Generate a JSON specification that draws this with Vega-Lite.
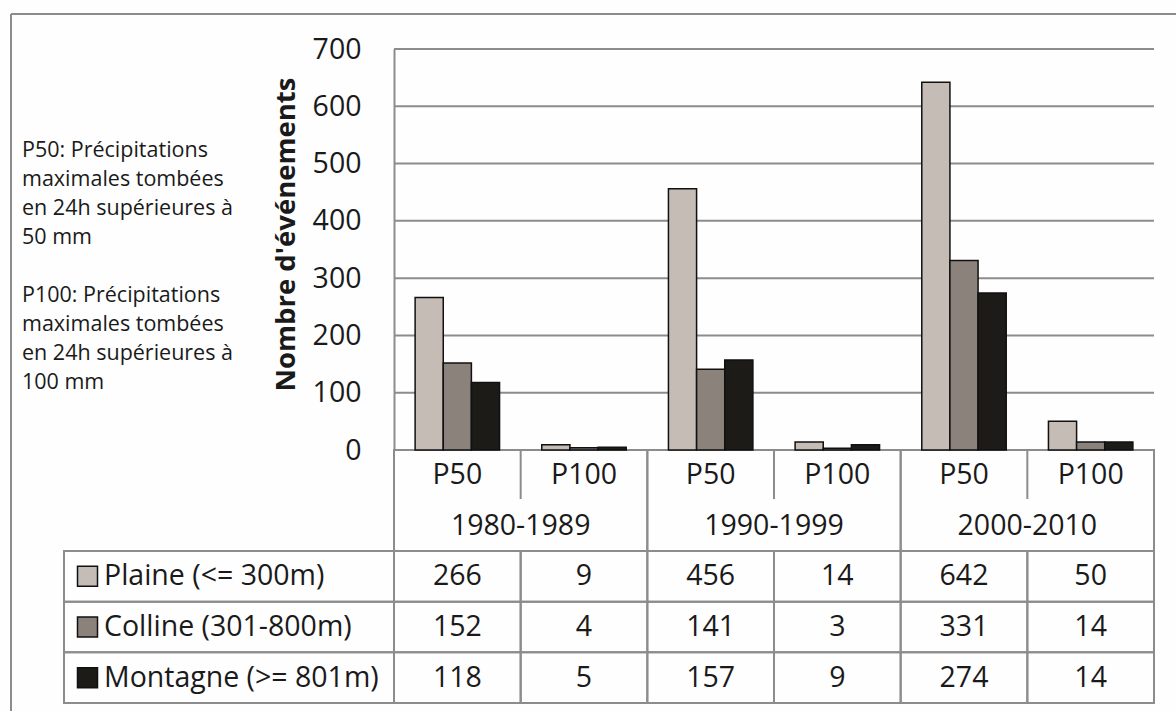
{
  "$schema": "https://vega.github.io/schema/vega-lite/v6.json",
  "width": 1176,
  "height": 711,
  "autosize": {"type": "fit", "contains": "padding"},
  "padding": {"left": 10, "top": 13, "right": 0, "bottom": 0},
  "background": "#fefefe",
  "view": {"stroke": null, "fill": "#fefefe"},
  "config": {"font": "Open Sans"},
  "datasets": {
    "evenements": [
      {"decennie": "1980-1989", "seuil": "P50", "colonne": "1980-1989 P50", "region": "Plaine (<= 300m)", "valeur": 266},
      {"decennie": "1980-1989", "seuil": "P100", "colonne": "1980-1989 P100", "region": "Plaine (<= 300m)", "valeur": 9},
      {"decennie": "1990-1999", "seuil": "P50", "colonne": "1990-1999 P50", "region": "Plaine (<= 300m)", "valeur": 456},
      {"decennie": "1990-1999", "seuil": "P100", "colonne": "1990-1999 P100", "region": "Plaine (<= 300m)", "valeur": 14},
      {"decennie": "2000-2010", "seuil": "P50", "colonne": "2000-2010 P50", "region": "Plaine (<= 300m)", "valeur": 642},
      {"decennie": "2000-2010", "seuil": "P100", "colonne": "2000-2010 P100", "region": "Plaine (<= 300m)", "valeur": 50},
      {"decennie": "1980-1989", "seuil": "P50", "colonne": "1980-1989 P50", "region": "Colline (301-800m)", "valeur": 152},
      {"decennie": "1980-1989", "seuil": "P100", "colonne": "1980-1989 P100", "region": "Colline (301-800m)", "valeur": 4},
      {"decennie": "1990-1999", "seuil": "P50", "colonne": "1990-1999 P50", "region": "Colline (301-800m)", "valeur": 141},
      {"decennie": "1990-1999", "seuil": "P100", "colonne": "1990-1999 P100", "region": "Colline (301-800m)", "valeur": 3},
      {"decennie": "2000-2010", "seuil": "P50", "colonne": "2000-2010 P50", "region": "Colline (301-800m)", "valeur": 331},
      {"decennie": "2000-2010", "seuil": "P100", "colonne": "2000-2010 P100", "region": "Colline (301-800m)", "valeur": 14},
      {"decennie": "1980-1989", "seuil": "P50", "colonne": "1980-1989 P50", "region": "Montagne (>= 801m)", "valeur": 118},
      {"decennie": "1980-1989", "seuil": "P100", "colonne": "1980-1989 P100", "region": "Montagne (>= 801m)", "valeur": 5},
      {"decennie": "1990-1999", "seuil": "P50", "colonne": "1990-1999 P50", "region": "Montagne (>= 801m)", "valeur": 157},
      {"decennie": "1990-1999", "seuil": "P100", "colonne": "1990-1999 P100", "region": "Montagne (>= 801m)", "valeur": 9},
      {"decennie": "2000-2010", "seuil": "P50", "colonne": "2000-2010 P50", "region": "Montagne (>= 801m)", "valeur": 274},
      {"decennie": "2000-2010", "seuil": "P100", "colonne": "2000-2010 P100", "region": "Montagne (>= 801m)", "valeur": 14}
    ],
    "graduations": [{"v": 0}, {"v": 100}, {"v": 200}, {"v": 300}, {"v": 400}, {"v": 500}, {"v": 600}, {"v": 700}],
    "notes": [
      {"seuil": "P50", "texte": "P50: Précipitations\nmaximales tombées\nen 24h supérieures à\n50 mm"},
      {"seuil": "P100", "texte": "P100: Précipitations\nmaximales tombées\nen 24h supérieures à\n100 mm"}
    ],
    "cadre": [{"bord": "haut"}, {"bord": "gauche"}]
  },
  "resolve": {
    "scale": {"x": "independent", "y": "independent"},
    "axis": {"x": "independent", "y": "independent"}
  },
  "layer": [
    {
      "data": {"name": "cadre"},
      "transform": [{"filter": "datum.bord == 'haut'"}],
      "mark": {"type": "rule", "color": "#8c8c8c", "strokeWidth": 2},
      "encoding": {
        "x": {"datum": "début", "type": "nominal", "scale": {"type": "point", "domain": ["début", "fin"], "range": [0, 1180], "padding": 0}, "axis": null},
        "x2": {"datum": "fin"},
        "y": {"datum": "haut", "type": "nominal", "scale": {"type": "point", "domain": ["haut", "bas"], "range": [0, 710], "padding": 0}, "axis": null}
      }
    },
    {
      "data": {"name": "cadre"},
      "transform": [{"filter": "datum.bord == 'gauche'"}],
      "mark": {"type": "rule", "color": "#8c8c8c", "strokeWidth": 2},
      "encoding": {
        "x": {"datum": "début", "type": "nominal", "scale": {"type": "point", "domain": ["début", "fin"], "range": [0, 1180], "padding": 0}, "axis": null},
        "y": {"datum": "haut", "type": "nominal", "scale": {"type": "point", "domain": ["haut", "bas"], "range": [0, 710], "padding": 0}, "axis": null},
        "y2": {"datum": "bas"}
      }
    },
    {
      "data": {"name": "graduations"},
      "mark": {"type": "rule", "color": "#8c8c8c", "strokeWidth": 2},
      "encoding": {
        "y": {"field": "v", "type": "quantitative", "scale": {"domain": [0, 700], "range": [436, 35], "nice": false, "zero": false}, "axis": null},
        "x": {"datum": "début", "type": "nominal", "scale": {"type": "point", "domain": ["début", "fin"], "range": [383, 1143], "padding": 0}, "axis": null},
        "x2": {"datum": "fin"}
      }
    },
    {
      "data": {"name": "evenements"},
      "transform": [{"filter": "datum.region == 'Plaine (<= 300m)' && datum.seuil == 'P50'"}],
      "mark": {"type": "rect", "fillOpacity": 0, "stroke": "#8c8c8c", "strokeWidth": 2},
      "encoding": {
        "x": {"field": "decennie", "type": "nominal", "scale": {"type": "band", "domain": ["1980-1989", "1990-1999", "2000-2010"], "range": [383, 1143], "paddingInner": 0, "paddingOuter": 0}, "axis": null},
        "y": {"datum": "entête", "type": "nominal", "scale": {"type": "band", "domain": ["entête"], "range": [436, 537], "paddingInner": 0, "paddingOuter": 0}, "axis": null}
      }
    },
    {
      "data": {"name": "evenements"},
      "mark": {"type": "rect", "fillOpacity": 0, "stroke": "#8c8c8c", "strokeWidth": 2},
      "encoding": {
        "x": {"field": "colonne", "type": "nominal", "scale": {"type": "band", "domain": ["1980-1989 P50", "1980-1989 P100", "1990-1999 P50", "1990-1999 P100", "2000-2010 P50", "2000-2010 P100"], "range": [383, 1143], "paddingInner": 0, "paddingOuter": 0}, "axis": null},
        "y": {"field": "region", "type": "nominal", "scale": {"type": "band", "domain": ["Plaine (<= 300m)", "Colline (301-800m)", "Montagne (>= 801m)"], "range": [537, 689], "paddingInner": 0, "paddingOuter": 0}, "axis": null}
      }
    },
    {
      "data": {"name": "evenements"},
      "transform": [{"filter": "datum.colonne == '1980-1989 P50'"}],
      "mark": {"type": "rect", "fillOpacity": 0, "stroke": "#8c8c8c", "strokeWidth": 2},
      "encoding": {
        "x": {"datum": "légende", "type": "nominal", "scale": {"type": "band", "domain": ["légende"], "range": [53, 383], "paddingInner": 0, "paddingOuter": 0}, "axis": null},
        "y": {"field": "region", "type": "nominal", "scale": {"type": "band", "domain": ["Plaine (<= 300m)", "Colline (301-800m)", "Montagne (>= 801m)"], "range": [537, 689], "paddingInner": 0, "paddingOuter": 0}, "axis": null}
      }
    },
    {
      "data": {"name": "evenements"},
      "transform": [{"filter": "datum.region == 'Plaine (<= 300m)' && datum.seuil == 'P50'"}],
      "mark": {"type": "rule", "color": "#8c8c8c", "strokeWidth": 2},
      "encoding": {
        "x": {"field": "colonne", "type": "nominal", "bandPosition": 1, "scale": {"type": "band", "domain": ["1980-1989 P50", "1980-1989 P100", "1990-1999 P50", "1990-1999 P100", "2000-2010 P50", "2000-2010 P100"], "range": [383, 1143], "paddingInner": 0, "paddingOuter": 0}, "axis": null},
        "y": {"datum": "haut", "type": "nominal", "scale": {"type": "point", "domain": ["haut", "bas"], "range": [436, 485], "padding": 0}, "axis": null},
        "y2": {"datum": "bas"}
      }
    },
    {
      "data": {"name": "evenements"},
      "mark": {"type": "bar", "stroke": "#111111", "strokeWidth": 1.5},
      "encoding": {
        "x": {"field": "colonne", "type": "nominal", "scale": {"type": "band", "domain": ["1980-1989 P50", "1980-1989 P100", "1990-1999 P50", "1990-1999 P100", "2000-2010 P50", "2000-2010 P100"], "range": [383, 1143], "paddingInner": 0, "paddingOuter": 0}, "axis": null},
        "xOffset": {"field": "region", "type": "nominal", "scale": {"domain": ["Plaine (<= 300m)", "Colline (301-800m)", "Montagne (>= 801m)"], "paddingInner": 0, "paddingOuter": 0.75}},
        "y": {
          "field": "valeur", "type": "quantitative",
          "scale": {"domain": [0, 700], "range": [436, 35], "nice": false},
          "axis": {
            "orient": "left", "offset": -383, "values": [0, 100, 200, 300, 400, 500, 600, 700],
            "grid": false, "ticks": false, "domain": true, "domainColor": "#8c8c8c", "domainWidth": 2,
            "labelPadding": 33, "labelFontSize": 28.5, "labelColor": "#1a1a1a", "labelFont": "Open Sans",
            "title": "Nombre d'événements", "titleFont": "Open Sans", "titleFontSize": 27.5, "titleFontWeight": "bold",
            "titleColor": "#1a1a1a", "titleX": -108, "titleY": 220, "titleBaseline": "middle", "titleAngle": 270
          }
        },
        "fill": {"field": "region", "type": "nominal", "scale": {"domain": ["Plaine (<= 300m)", "Colline (301-800m)", "Montagne (>= 801m)"], "range": ["#c5bcb5", "#8b827c", "#1d1b18"]}, "legend": null}
      }
    },
    {
      "data": {"name": "evenements"},
      "transform": [{"filter": "datum.region == 'Plaine (<= 300m)'"}],
      "mark": {"type": "text", "fontSize": 28.5, "color": "#1a1a1a", "baseline": "middle"},
      "encoding": {
        "text": {"field": "seuil"},
        "x": {"field": "colonne", "type": "nominal", "scale": {"type": "band", "domain": ["1980-1989 P50", "1980-1989 P100", "1990-1999 P50", "1990-1999 P100", "2000-2010 P50", "2000-2010 P100"], "range": [383, 1143], "paddingInner": 0, "paddingOuter": 0}, "axis": null},
        "y": {"datum": "seuil", "type": "nominal", "scale": {"type": "band", "domain": ["seuil", "décennie"], "range": [436, 537], "paddingInner": 0, "paddingOuter": 0}, "axis": null}
      }
    },
    {
      "data": {"name": "evenements"},
      "transform": [{"filter": "datum.region == 'Plaine (<= 300m)' && datum.seuil == 'P50'"}],
      "mark": {"type": "text", "fontSize": 28.5, "color": "#1a1a1a", "baseline": "middle"},
      "encoding": {
        "text": {"field": "decennie"},
        "x": {"field": "decennie", "type": "nominal", "scale": {"type": "band", "domain": ["1980-1989", "1990-1999", "2000-2010"], "range": [383, 1143], "paddingInner": 0, "paddingOuter": 0}, "axis": null},
        "y": {"datum": "décennie", "type": "nominal", "scale": {"type": "band", "domain": ["seuil", "décennie"], "range": [436, 537], "paddingInner": 0, "paddingOuter": 0}, "axis": null}
      }
    },
    {
      "data": {"name": "evenements"},
      "mark": {"type": "text", "fontSize": 28.5, "color": "#1a1a1a", "baseline": "middle"},
      "encoding": {
        "text": {"field": "valeur", "type": "quantitative"},
        "x": {"field": "colonne", "type": "nominal", "scale": {"type": "band", "domain": ["1980-1989 P50", "1980-1989 P100", "1990-1999 P50", "1990-1999 P100", "2000-2010 P50", "2000-2010 P100"], "range": [383, 1143], "paddingInner": 0, "paddingOuter": 0}, "axis": null},
        "y": {"field": "region", "type": "nominal", "scale": {"type": "band", "domain": ["Plaine (<= 300m)", "Colline (301-800m)", "Montagne (>= 801m)"], "range": [537, 689], "paddingInner": 0, "paddingOuter": 0}, "axis": null}
      }
    },
    {
      "data": {"name": "evenements"},
      "transform": [{"filter": "datum.colonne == '1980-1989 P50'"}],
      "mark": {"type": "point", "shape": "square", "size": 400, "filled": true, "stroke": "#111111", "strokeWidth": 1.5, "opacity": 1},
      "encoding": {
        "x": {"datum": "carré", "type": "nominal", "scale": {"type": "point", "domain": ["carré", "libellé"], "range": [76.5, 93], "padding": 0}, "axis": null},
        "y": {"field": "region", "type": "nominal", "scale": {"type": "band", "domain": ["Plaine (<= 300m)", "Colline (301-800m)", "Montagne (>= 801m)"], "range": [537, 689], "paddingInner": 0, "paddingOuter": 0}, "axis": null},
        "fill": {"field": "region", "type": "nominal", "scale": {"domain": ["Plaine (<= 300m)", "Colline (301-800m)", "Montagne (>= 801m)"], "range": ["#c5bcb5", "#8b827c", "#1d1b18"]}, "legend": null}
      }
    },
    {
      "data": {"name": "evenements"},
      "transform": [{"filter": "datum.colonne == '1980-1989 P50'"}],
      "mark": {"type": "text", "fontSize": 28.5, "color": "#1a1a1a", "baseline": "middle", "align": "left"},
      "encoding": {
        "text": {"field": "region"},
        "x": {"datum": "libellé", "type": "nominal", "scale": {"type": "point", "domain": ["carré", "libellé"], "range": [76.5, 93], "padding": 0}, "axis": null},
        "y": {"field": "region", "type": "nominal", "scale": {"type": "band", "domain": ["Plaine (<= 300m)", "Colline (301-800m)", "Montagne (>= 801m)"], "range": [537, 689], "paddingInner": 0, "paddingOuter": 0}, "axis": null}
      }
    },
    {
      "data": {"name": "notes"},
      "mark": {"type": "text", "fontSize": 21.5, "color": "#1a1a1a", "baseline": "middle", "align": "left", "lineBreak": "\n", "lineHeight": 29},
      "encoding": {
        "text": {"field": "texte"},
        "x": {"datum": "note", "type": "nominal", "bandPosition": 0, "scale": {"type": "band", "domain": ["note"], "range": [11, 250], "paddingInner": 0, "paddingOuter": 0}, "axis": null},
        "y": {"field": "seuil", "type": "nominal", "scale": {"type": "point", "domain": ["P50", "P100"], "range": [137, 282], "padding": 0}, "axis": null}
      }
    }
  ]
}
